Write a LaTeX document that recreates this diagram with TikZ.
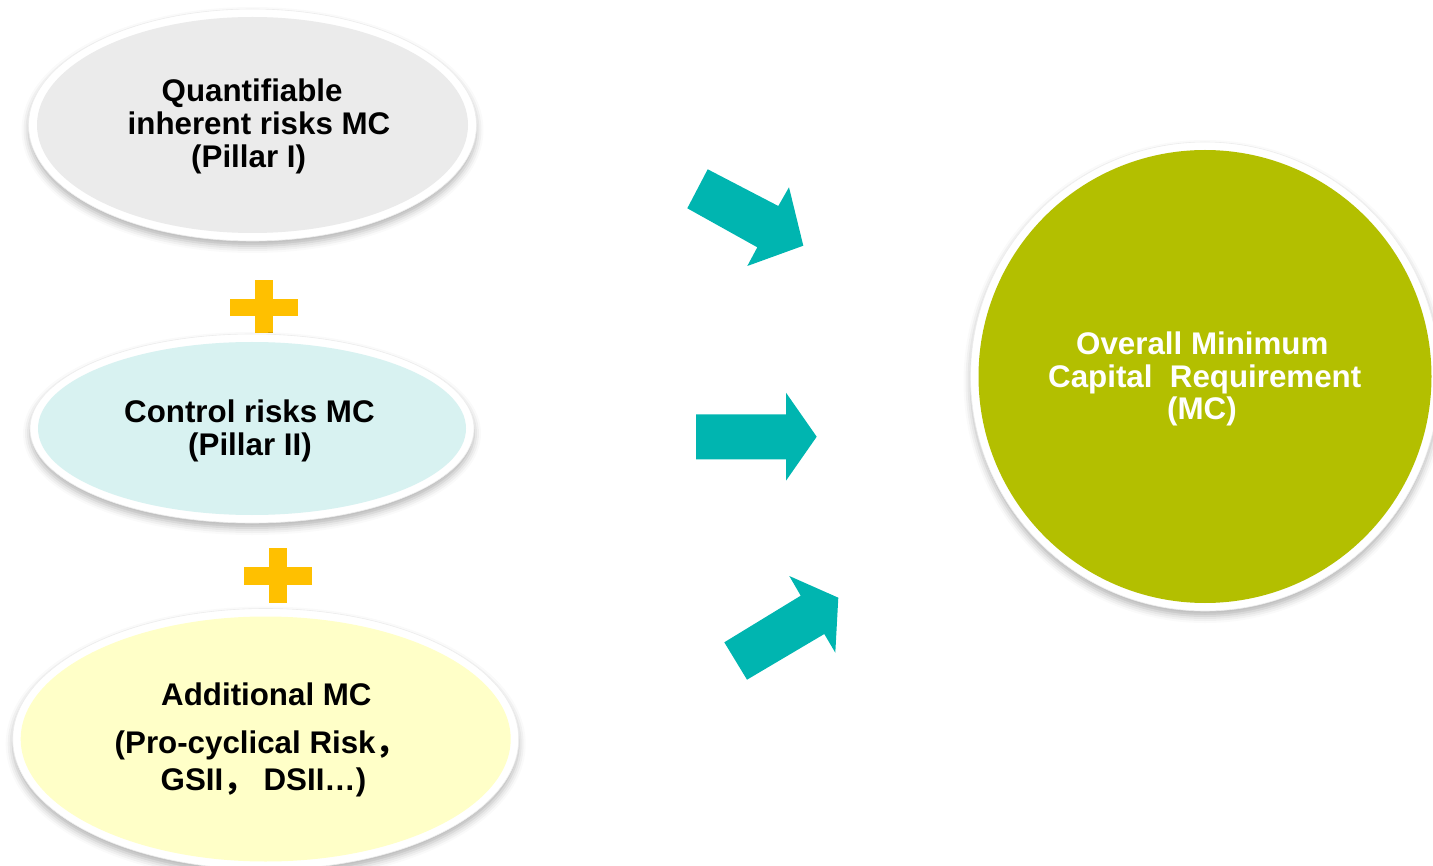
\documentclass[tikz,border=0pt]{standalone}
\usepackage{fontspec}
\setmainfont{Liberation Sans}
\newfontfamily\cjkfont{Noto Sans CJK SC}
\usetikzlibrary{shapes.geometric,shadows.blur}
\definecolor{ovalgray}{RGB}{235,235,235}
\definecolor{ovalcyan}{RGB}{216,242,241}
\definecolor{ovalyellow}{RGB}{255,255,200}
\definecolor{olivegreen}{RGB}{179,191,0}
\definecolor{plusorange}{RGB}{255,192,0}
\definecolor{arrowteal}{RGB}{0,181,176}
\begin{document}
\begin{tikzpicture}[x=1pt,y=-1pt,
  rim/.style={fill=white, draw=black!7, line width=0.6pt, inner sep=0pt,
    blur shadow={shadow xshift=0pt, shadow yshift=-5pt, shadow blur radius=7pt, shadow opacity=30}},
  core/.style={inner sep=0pt, draw=none},
  lbl/.style={anchor=base west, inner sep=0pt, font=\bfseries\fontsize{31.3}{33}\selectfont},
  plusbar/.style={fill=plusorange},
  blockarrow/.style={fill=arrowteal}]
\useasboundingbox (0,0) rectangle (1433,866);

% ellipse 1
\node[rim, ellipse, minimum width=448pt, minimum height=232pt] (o1) at (252.5,125) {};
\node[core, ellipse, fill=ovalgray, minimum width=431pt, minimum height=216pt] (e1) at (o1.center) {};
\node[lbl] (t1a) at (161.5,102) {Quantifiable};
\node[lbl] (t1b) at (127.5,135) {inherent risks MC};
\node[lbl] (t1c) at (191,168) {(Pillar I)};

% plus 1
\fill[plusbar] (255,280) rectangle (273,333);
\fill[plusbar] (230,299) rectangle (298,316);

% ellipse 2
\node[rim, ellipse, minimum width=444pt, minimum height=189pt] (o2) at (252,428.5) {};
\node[core, ellipse, fill=ovalcyan, minimum width=428pt, minimum height=173pt] (e2) at (o2.center) {};
\node[lbl] (t2a) at (124,423) {Control risks MC};
\node[lbl] (t2b) at (188,456) {(Pillar II)};

% plus 2
\fill[plusbar] (269,548) rectangle (287,603);
\fill[plusbar] (244,567) rectangle (312,585);

% ellipse 3
\node[rim, ellipse, minimum width=506pt, minimum height=261pt] (o3) at (265.7,739) {};
\node[core, ellipse, fill=ovalyellow, minimum width=490pt, minimum height=245pt] (e3) at (o3.center) {};
\node[lbl] (t3a) at (161,705) {Additional MC};
\node[lbl] (t3b) at (114.5,753) {(Pro-cyclical Risk{\cjkfont ，}};
\node[lbl] (t3c) at (160.5,790) {GSII{\cjkfont ，}\hspace*{9pt}DSII…)};

% big circle
\node[rim, circle, minimum size=469pt] (oc) at (1205,376.5) {};
\node[core, circle, fill=olivegreen, minimum size=453pt] (c) at (oc.center) {};
\node[lbl, text=white] (tca) at (1076,355) {Overall Minimum};
\node[lbl, text=white] (tcb) at (1048,388) {Capital\ \ Requirement};
\node[lbl, text=white] (tcc) at (1167,420) {(MC)};

% block arrows
\fill[blockarrow] (707.7,169.3) -- (778.3,206) -- (789,187.3) -- (803.3,245.7)
  -- (747.3,266) -- (757.3,247.3) -- (687.3,208.3) -- cycle;
\fill[blockarrow] (696,414.3) -- (786,414.3) -- (786,392.7) -- (816.7,436.7)
  -- (786,480.7) -- (786,459.3) -- (696,459.3) -- cycle;
\fill[blockarrow] (724.3,642.3) -- (800.7,595.7) -- (789.3,576) -- (838.3,597.7)
  -- (835.3,652.7) -- (824.3,634) -- (747,679.7) -- cycle;
\end{tikzpicture}
\end{document}
